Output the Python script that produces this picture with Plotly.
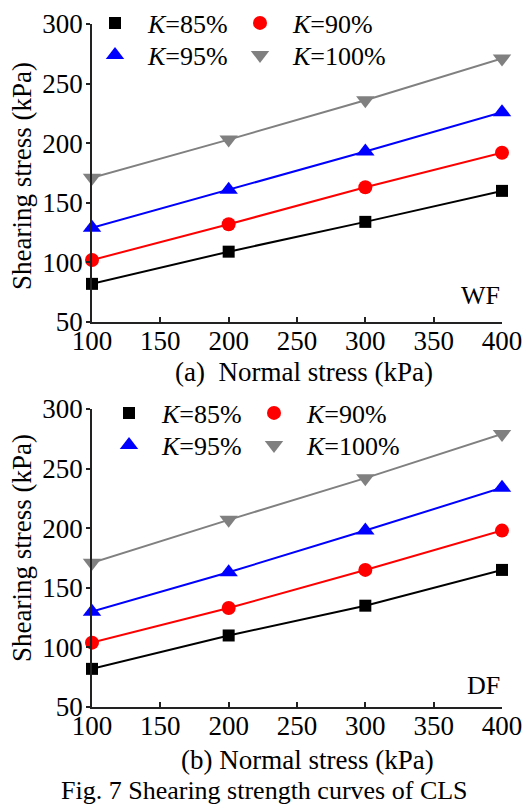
import plotly.graph_objects as go

# Normal stress levels (kPa)
normal_stress = [100, 200, 300, 400]

# Shearing stress (kPa) for each compaction degree K
wf_k85 = [82, 109, 134, 160]
wf_k90 = [102, 132, 163, 192]
wf_k95 = [129, 161, 193, 226]
wf_k100 = [171, 203, 236, 271]

df_k85 = [82, 110, 135, 165]
df_k90 = [104, 133, 165, 198]
df_k95 = [130, 163, 198, 234]
df_k100 = [171, 207, 242, 279]

series_names = ["<i>K</i>=85%", "<i>K</i>=90%", "<i>K</i>=95%", "<i>K</i>=100%"]
series_colors = ["#000000", "#ff0000", "#0000ff", "#808080"]
series_symbols = ["square", "circle", "triangle-up", "triangle-down"]
series_sizes = [12, 14, 16, 16]

x_ticks = [100, 150, 200, 250, 300, 350, 400]
y_ticks = [50, 100, 150, 200, 250, 300]

W, H = 527, 805
FONT = "Liberation Serif"
TICK_SIZE = 27
TEXT_SIZE = 26


def px_x(p):
    return p / W


def px_y(p):
    return 1 - p / H


fig = go.Figure()

# one legend box per entry, laid out as a 2x2 grid inside each panel
panels = [
    ("x", "y", [wf_k85, wf_k90, wf_k95, wf_k100], 95, 23),
    ("x2", "y2", [df_k85, df_k90, df_k95, df_k100], 109, 413),
]
col_step, row_step = 145, 32

legend_common = dict(
    orientation="h", bgcolor="rgba(0,0,0,0)", borderwidth=0,
    font=dict(family=FONT, size=TEXT_SIZE, color="#000000"),
    xanchor="left", yanchor="middle", itemclick=False,
)
legend_layout = {}
legend_idx = 1

for xa, ya, data, lx, ly in panels:
    for i, vals in enumerate(data):
        fig.add_trace(go.Scatter(
            x=normal_stress, y=vals, mode="lines", xaxis=xa, yaxis=ya,
            line=dict(color=series_colors[i], width=2), showlegend=False,
            hoverinfo="skip", cliponaxis=False,
        ))
    for i, vals in enumerate(data):
        key = "legend" if legend_idx == 1 else f"legend{legend_idx}"
        legend_idx += 1
        legend_layout[key] = dict(
            x=px_x(lx + (i % 2) * col_step),
            y=px_y(ly + (i // 2) * row_step),
            **legend_common,
        )
        fig.add_trace(go.Scatter(
            x=normal_stress, y=vals, mode="markers", xaxis=xa, yaxis=ya,
            name="\u2002" + series_names[i], legend=key, cliponaxis=False,
            marker=dict(color=series_colors[i], symbol=series_symbols[i],
                        size=series_sizes[i], line=dict(width=0)),
        ))

x_dom = [px_x(92), px_x(502)]
axis_common = dict(
    showline=True, linecolor="#222222", linewidth=1.5, mirror=False,
    showgrid=False, zeroline=False, automargin=False,
    tickfont=dict(family=FONT, size=TICK_SIZE, color="#000000"),
    tickcolor="#222222", tickwidth=1.5,
)
x_common = dict(range=[100, 400], tickvals=x_ticks, ticks="inside", ticklen=5,
                ticklabelstandoff=-6, **axis_common)
y_common = dict(range=[50, 300], tickvals=y_ticks, ticks="outside", ticklen=4,
                ticklabelstandoff=-2, **axis_common)

fig.update_layout(
    template="none",
    width=W, height=H,
    margin=dict(l=0, r=0, t=0, b=0, autoexpand=False),
    paper_bgcolor="white", plot_bgcolor="white",
    xaxis=dict(domain=x_dom, anchor="y", **x_common),
    yaxis=dict(domain=[px_y(322), px_y(24)], anchor="x", **y_common),
    xaxis2=dict(domain=x_dom, anchor="y2", **x_common),
    yaxis2=dict(domain=[px_y(707), px_y(409)], anchor="x2", **y_common),
    **legend_layout,
)

txt = dict(family=FONT, size=TEXT_SIZE, color="#000000")
title_txt = dict(family=FONT, size=27, color="#000000")
annotations = [
    dict(text="Shearing stress (kPa)", x=px_x(22), y=px_y(176), textangle=-90, font=title_txt),
    dict(text="Shearing stress (kPa)", x=px_x(22), y=px_y(548), textangle=-90, font=title_txt),
    dict(text="(a)\u2002Normal stress (kPa)", x=px_x(304), y=px_y(372), font=title_txt),
    dict(text="(b) Normal stress (kPa)", x=px_x(307), y=px_y(760), font=title_txt),
    dict(text="Fig. 7 Shearing strength curves of CLS", x=px_x(264), y=px_y(790)),
    dict(text="WF", x=px_x(502), y=px_y(295), xanchor="right"),
    dict(text="DF", x=px_x(502), y=px_y(685), xanchor="right"),
]
for a in annotations:
    a.setdefault("xanchor", "center")
    a.setdefault("font", txt)
    fig.add_annotation(xref="paper", yref="paper", showarrow=False,
                       yanchor="middle", **a)

fig.write_html("out.html")
